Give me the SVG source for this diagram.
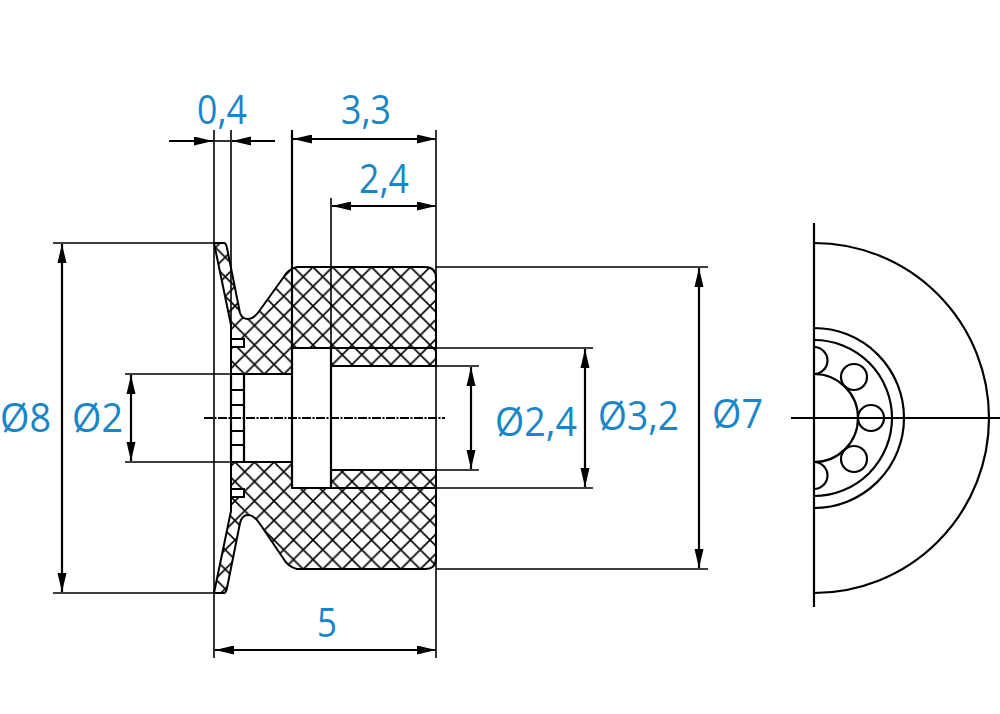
<svg xmlns="http://www.w3.org/2000/svg" width="1000" height="714" viewBox="0 0 1000 714">
<style>
.o{fill:none;stroke:#000;stroke-width:2.2}
.h{fill:url(#hatch);stroke:#000;stroke-width:2.2;stroke-linejoin:round}
.d{fill:none;stroke:#000;stroke-width:1.6}
.a{fill:none;stroke:#000;stroke-width:2.2;marker-start:url(#s);marker-end:url(#e)}
.t{font-family:"Open Sans","Noto Sans",sans-serif;font-size:41px;fill:#1a86c8}
</style>
<defs>
<pattern id="hatch" patternUnits="userSpaceOnUse" x="352" y="267" width="19.5" height="19.5">
<path d="M0 0L19.5 19.5M19.5 0L0 19.5" stroke="#000" stroke-width="1.6" fill="none"/>
</pattern>
<marker id="e" markerUnits="userSpaceOnUse" markerWidth="20" markerHeight="10" refX="19" refY="4.5" orient="auto"><path d="M0 0L19 4.5L0 9Z" fill="#000"/></marker>
<marker id="s" markerUnits="userSpaceOnUse" markerWidth="20" markerHeight="10" refX="0" refY="4.5" orient="auto"><path d="M19 0L0 4.5L19 9Z" fill="#000"/></marker>
</defs>
<g id="section">
<path class="h" d="M214 243H224Q226 243 227 248L240 313Q242 319 248 319Q254 319 260 310L283 278Q288 269 297 267H425Q436 267 436 278V348H292V374H231V325Z" style="stroke-width:2"/>
<path class="h" d="M292 348H436V366H331V348Z" style="stroke-width:2"/>
<path class="h" d="M214 593H224Q226 593 227 588L240 523Q242 515 248 515Q254 515 260 524L283 558Q288 567 297 569H425Q436 569 436 558V488H292V462H231V511Z" style="stroke-width:2"/>
<path class="h" d="M292 488H436V470H331V488Z" style="stroke-width:2"/>
<path d="M231 339H244V347H231ZM231 489H244V497H231Z" fill="#fff" stroke="#000" stroke-width="2"/>
<path class="o" d="M292 130V488M331 348V488M231 374V462M244 374V462M231 390H244M231 405H244M231 431H244M231 445H244"/>
</g>
<g id="connectors">
<path class="d" d="M214 130V658M231 130V374M331 198V348M436 130V658M53 243H225M53 593H225M125 374H292M125 462H292M436 267H708M436 569H708M436 348H593M436 488H593M436 366H479M436 470H479"/>
<path d="M204 418H445" fill="none" stroke="#000" stroke-width="2" stroke-dasharray="9 1.5 2 1.5"/>
<path class="d" d="M214 141H231"/>
<path d="M169 141H213" fill="none" stroke="#000" stroke-width="2.2" marker-end="url(#e)"/>
<path d="M275 141H232" fill="none" stroke="#000" stroke-width="2.2" marker-end="url(#e)"/>
<path class="a" d="M293 139H436"/>
<path class="a" d="M332 206H436"/>
<path class="a" d="M215 650H436"/>
<path class="a" d="M62 244V592"/>
<path class="a" d="M131 375V461"/>
<path class="a" d="M471 367V469"/>
<path class="a" d="M585 349V487"/>
<path class="a" d="M699 268V568"/>
</g>
<g id="end-view">
<path class="o" d="M814 223V607M791 418H1000"/>
<path class="o" d="M814 243A175 175 0 0 1 814 593M814 328A90 90 0 0 1 814 508M814 340A78 78 0 0 1 814 496M814 374A44 44 0 0 1 814 462"/>
<circle class="o" cx="871" cy="418" r="13"/>
<circle class="o" cx="854" cy="377" r="13"/>
<circle class="o" cx="854" cy="459" r="13"/>
<path class="o" d="M814 347A13.5 13.5 0 0 1 814 374M814 462A13.5 13.5 0 0 1 814 489"/>
</g>
<g id="labels">
<text class="t" x="197" y="124" textLength="50" lengthAdjust="spacingAndGlyphs">0,4</text>
<text class="t" x="341" y="124" textLength="50" lengthAdjust="spacingAndGlyphs">3,3</text>
<text class="t" x="359" y="193" textLength="50" lengthAdjust="spacingAndGlyphs">2,4</text>
<text class="t" x="0" y="432" textLength="51" lengthAdjust="spacingAndGlyphs">Ø8</text>
<text class="t" x="72" y="432" textLength="51" lengthAdjust="spacingAndGlyphs">Ø2</text>
<text class="t" x="495" y="436" textLength="82" lengthAdjust="spacingAndGlyphs">Ø2,4</text>
<text class="t" x="598" y="430" textLength="81" lengthAdjust="spacingAndGlyphs">Ø3,2</text>
<text class="t" x="712" y="428" textLength="51" lengthAdjust="spacingAndGlyphs">Ø7</text>
<text class="t" x="317" y="637" textLength="20" lengthAdjust="spacingAndGlyphs">5</text>
</g>
</svg>
